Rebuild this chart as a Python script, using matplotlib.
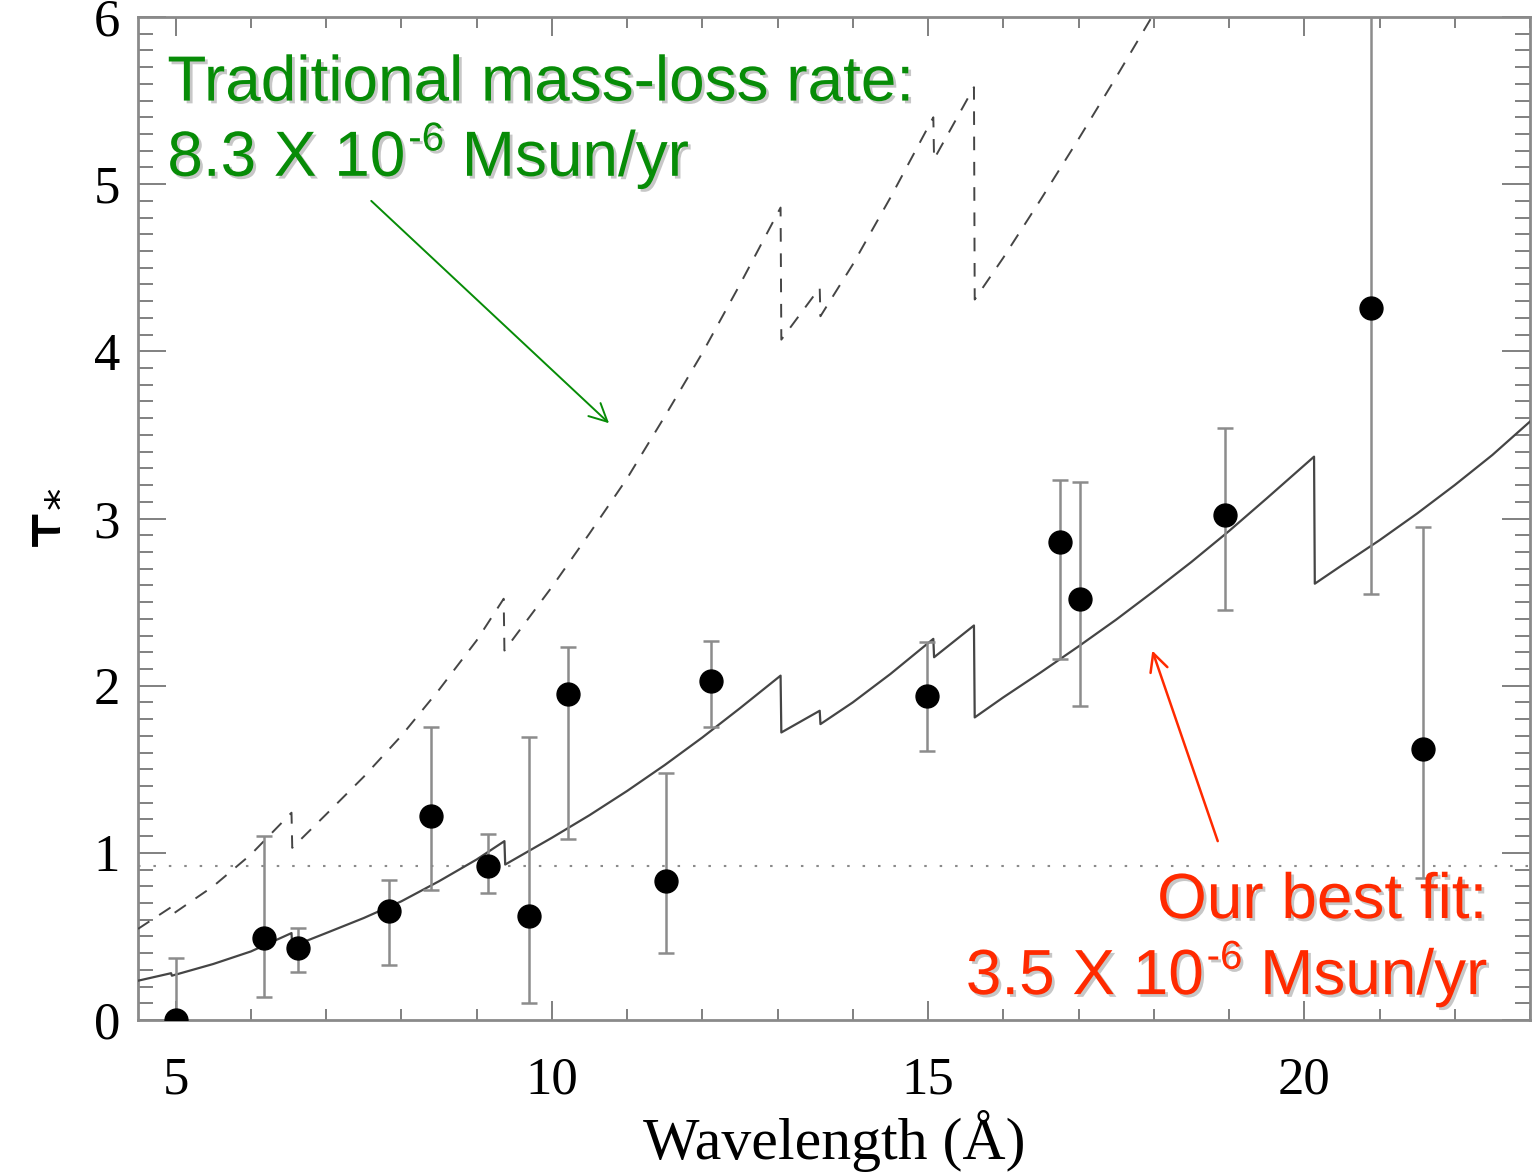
import matplotlib
matplotlib.use("Agg")
import matplotlib.pyplot as plt
import matplotlib.patheffects as pe
from matplotlib.ticker import MultipleLocator

# Measured optical depths (with lower / upper ends of the error bars)
wavelength = [5.00, 6.17, 6.63, 7.84, 8.40, 9.15, 9.69, 10.21, 11.52, 12.11,
              14.99, 16.76, 17.02, 18.94, 20.89, 21.58]
tau = [0.00, 0.49, 0.43, 0.65, 1.22, 0.92, 0.62, 1.95, 0.83, 2.03,
       1.94, 2.86, 2.52, 3.02, 4.26, 1.62]
tau_upper = [0.37, 1.10, 0.55, 0.84, 1.75, 1.11, 1.69, 2.23, 1.48, 2.27,
             2.26, 3.23, 3.22, 3.54, 6.50, 2.95]
tau_lower = [-0.37, 0.14, 0.29, 0.33, 0.78, 0.76, 0.10, 1.08, 0.40, 1.75,
             1.61, 2.16, 1.88, 2.45, 2.55, 0.85]

# Best-fit wind model (3.5e-6 Msun/yr)
fit_wave = [4.50, 4.94, 4.95, 5.50, 6.00, 6.54, 6.55, 7.00, 7.50, 8.00, 8.50,
            9.00, 9.37, 9.38, 10.00, 10.50, 11.00, 11.50, 12.00, 12.50, 13.04,
            13.05, 13.56, 13.57, 14.00, 14.50, 15.07, 15.08, 15.61, 15.62, 16.00,
            16.50, 17.00, 17.50, 18.00, 18.50, 19.00, 19.50, 20.13, 20.14, 20.50,
            21.00, 21.50, 22.00, 22.50, 23.00]
fit_tau = [0.235, 0.28, 0.265, 0.335, 0.41, 0.52, 0.44, 0.52, 0.61, 0.71, 0.83,
           0.96, 1.07, 0.93, 1.09, 1.225, 1.37, 1.525, 1.69, 1.865, 2.06,
           1.72, 1.85, 1.77, 1.90, 2.07, 2.28, 2.17, 2.36, 1.81, 1.93,
           2.08, 2.235, 2.395, 2.565, 2.74, 2.925, 3.12, 3.37, 2.61, 2.72,
           2.87, 3.03, 3.20, 3.38, 3.58]

# Model with the traditional mass-loss rate (8.3e-6 Msun/yr)
trad_wave = [4.50, 4.94, 4.95, 5.50, 6.00, 6.54, 6.55, 7.00, 7.50, 8.00, 8.50,
             9.00, 9.36, 9.37, 10.00, 10.50, 11.00, 11.50, 12.00, 12.50, 13.04,
             13.05, 13.56, 13.57, 14.00, 14.50, 15.07, 15.08, 15.61, 15.62, 16.00,
             16.50, 17.00, 17.50, 18.00, 18.50]
trad_tau = [0.545, 0.675, 0.63, 0.80, 0.99, 1.24, 1.03, 1.23, 1.455, 1.70, 1.975,
            2.27, 2.52, 2.21, 2.59, 2.91, 3.24, 3.61, 3.99, 4.40, 4.86,
            4.07, 4.38, 4.21, 4.52, 4.92, 5.40, 5.15, 5.58, 4.31, 4.56,
            4.91, 5.27, 5.64, 6.02, 6.40]

unity_level = 0.92

W, H = 1535, 1174
fig = plt.figure(figsize=(W / 100, H / 100), dpi=100)
ax = fig.add_axes([138 / W, 1 - 1020 / H, (1530 - 138) / W, (1020 - 17) / H])

serif = ["Liberation Serif", "DejaVu Serif"]
sans = ["Liberation Sans", "DejaVu Sans"]
plt.rcParams["mathtext.fontset"] = "custom"
plt.rcParams["mathtext.rm"] = "Liberation Serif"
plt.rcParams["mathtext.it"] = "Liberation Serif:italic"

ax.plot(fit_wave, fit_tau, color="#454545", lw=1.6, zorder=3)
ax.plot(trad_wave, trad_tau, color="#454545", lw=1.4, linestyle=(0, (7, 6)), zorder=3)
ax.axhline(unity_level, color="#8a8a8a", lw=1.5, linestyle=(0, (1.2, 6.2)), zorder=2)

yerr = [[t - lo for t, lo in zip(tau, tau_lower)],
        [hi - t for t, hi in zip(tau, tau_upper)]]
ax.errorbar(wavelength, tau, yerr=yerr, fmt="o", color="black", ms=16.5,
            ecolor="#8c8c8c", elinewidth=1.8, capsize=5.6, capthick=1.8,
            zorder=4, clip_on=True)

ax.set_xlim(4.5, 23.0)
ax.set_ylim(0, 6)
ax.xaxis.set_major_locator(MultipleLocator(5))
ax.xaxis.set_minor_locator(MultipleLocator(1))
ax.yaxis.set_major_locator(MultipleLocator(1))
ax.yaxis.set_minor_locator(MultipleLocator(0.1))

for sp in ax.spines.values():
    sp.set_color("#8a8a8a")
    sp.set_linewidth(2.0)

ax.tick_params(axis="both", which="both", direction="in", top=True, right=True,
               color="#808080", width=1.4)
ax.tick_params(axis="x", which="major", length=14, pad=26)
ax.tick_params(axis="x", which="minor", length=8)
ax.tick_params(axis="y", which="major", length=20, pad=13)
ax.tick_params(axis="y", which="minor", length=11)
for lab in ax.get_xticklabels() + ax.get_yticklabels():
    lab.set_fontfamily(serif)
    lab.set_fontsize(38)

ax.set_xlabel("Wavelength (Å)", fontsize=43, family=serif, labelpad=4)
ax.set_ylabel(r"$\mathrm{τ}_{*}$", fontsize=46, labelpad=16)

shadow = [pe.withSimplePatchShadow(offset=(2.0, -2.0), shadow_rgbFace="black", alpha=0.22)]
green = "#078c07"
red = "#ff2a00"
fs = 46
fs_sup = 29

# Traditional mass-loss rate label (left aligned)
ax.text(4.89, 5.50, "Traditional mass-loss rate:", fontsize=fs, family=sans,
        color=green, path_effects=shadow, ha="left", va="baseline", zorder=6)
g1 = ax.text(4.89, 5.05, "8.3 X 10", fontsize=fs, family=sans, color=green,
             path_effects=shadow, ha="left", va="baseline", zorder=6)
g2 = ax.annotate("-6", xy=(1, 1), xycoords=g1, xytext=(2, 6), textcoords="offset points",
                 fontsize=fs_sup, family=sans, color=green, path_effects=shadow,
                 ha="left", va="top", zorder=6)
ax.annotate(" Msun/yr", xy=(1, 0), xycoords=(g2, g1), fontsize=fs, family=sans,
            color=green, path_effects=shadow, ha="left", va="bottom", zorder=6)

# Best-fit label (right aligned)
ax.text(22.43, 0.61, "Our best fit:", fontsize=fs, family=sans, color=red,
        path_effects=shadow, ha="right", va="baseline", zorder=6)
r3 = ax.text(22.43, 0.155, " Msun/yr", fontsize=fs, family=sans, color=red,
             path_effects=shadow, ha="right", va="baseline", zorder=6)
r2 = ax.annotate("-6", xy=(0, 1), xycoords=r3, xytext=(0, 6), textcoords="offset points",
                 fontsize=fs_sup, family=sans, color=red, path_effects=shadow,
                 ha="right", va="top", zorder=6)
ax.annotate("3.5 X 10", xy=(0, 0), xycoords=(r2, r3), xytext=(-2, 0),
            textcoords="offset points", fontsize=fs, family=sans, color=red,
            path_effects=shadow, ha="right", va="bottom", zorder=6)

# Arrows pointing to the two model curves
ax.annotate("", xy=(10.76, 3.57), xytext=(7.60, 4.90),
            arrowprops=dict(arrowstyle="->", color=green, lw=1.4, mutation_scale=32,
                            shrinkA=0, shrinkB=0), zorder=6)
ax.annotate("", xy=(17.98, 2.21), xytext=(18.85, 1.07),
            arrowprops=dict(arrowstyle="->", color=red, lw=1.8, mutation_scale=32,
                            shrinkA=0, shrinkB=0), zorder=6)

fig.savefig("out.png", dpi=100, facecolor="white")
